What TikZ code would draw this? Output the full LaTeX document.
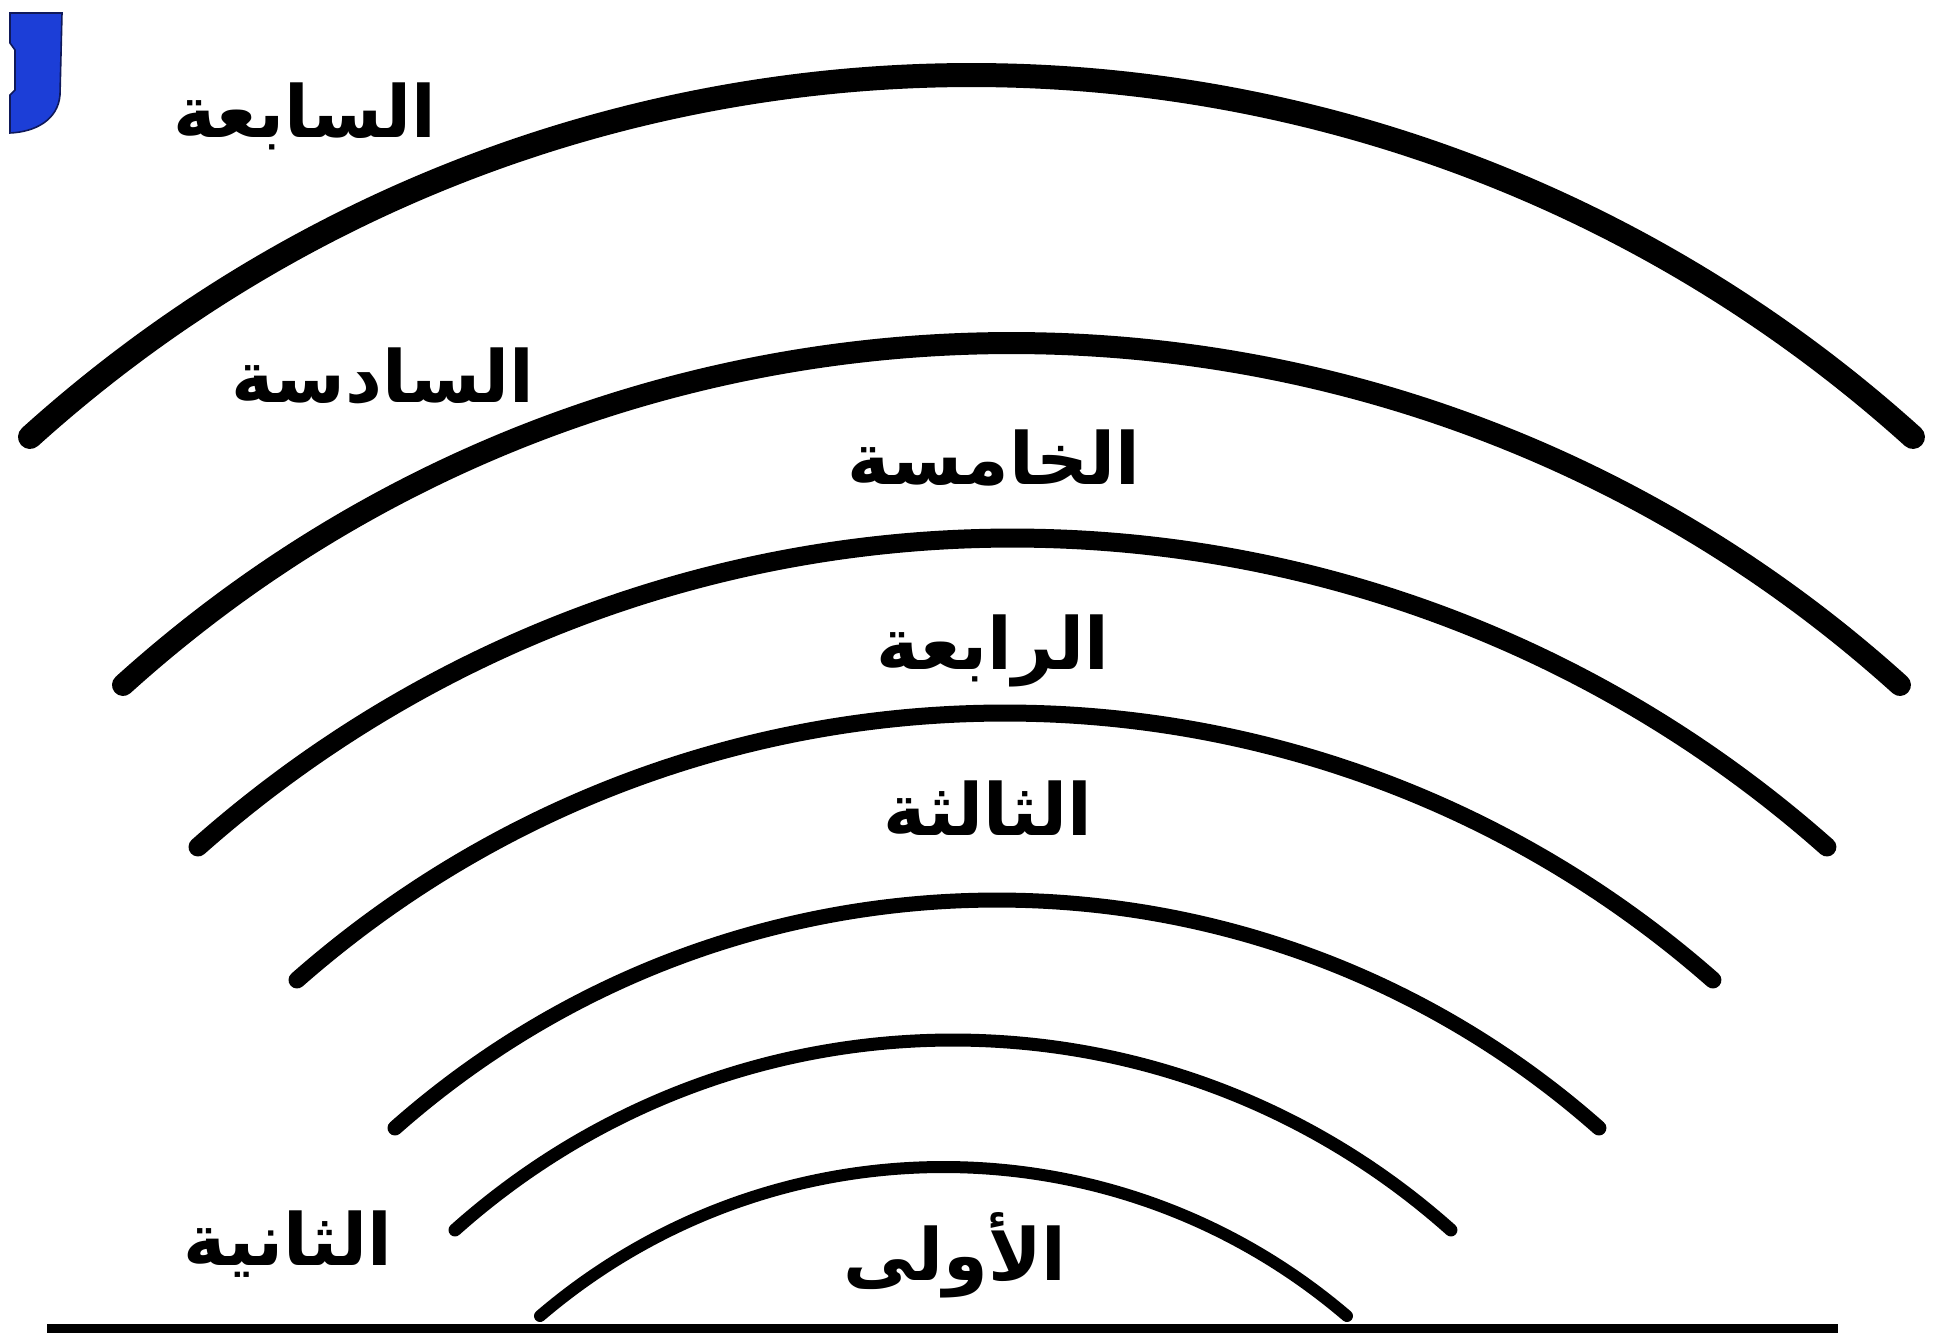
\documentclass[tikz,border=0pt]{standalone}
\usepackage{fontspec}
\newfontfamily\arabicfont[Script=Arabic]{DejaVu Sans}
\TeXXeTstate=1
\usepackage{xcolor}
\usepackage{tikz}
\definecolor{markblue}{RGB}{28,62,215}
\definecolor{marknavy}{RGB}{15,25,90}

\begin{document}
\begin{tikzpicture}[
x=5pt, y=5pt,
ring/.style={
draw=black,
line cap=round
},
layer/.style={
anchor=base,
inner sep=0pt,
font=\arabicfont\bfseries\fontsize{36}{40}\selectfont
}
]

\useasboundingbox[fill=white] (0,0) rectangle (194.1,133.2);

% corner mark
\fill[markblue, draw=marknavy, line width=0.8pt]
(1.0,131.9) -- (6.2,131.9) -- (6.0,123.7)
.. controls (5.8,121.2) and (3.5,120.0) .. (1.0,119.9)
-- (1.0,123.7) -- (1.5,124.2) -- (1.5,128.2) -- (1.0,128.9) -- cycle;

% arcs: left x / right x / end y / top y / width
\foreach \xa/\xb/\ye/\yt/\w in {
3.0/191.3/89.5/125.7/24,
12.3/190.0/64.7/98.9/22,
19.8/182.7/48.5/79.4/19,
29.7/171.3/35.2/61.9/17,
39.5/159.9/20.4/43.2/15,
45.5/145.1/10.2/29.2/13,
54.0/134.7/1.6/16.5/12}{
\pgfmathsetmacro\ha{(\xb-\xa)/2}
\pgfmathsetmacro\sg{\yt-\ye}
\pgfmathsetmacro\rad{(\ha*\ha+\sg*\sg)/(2*\sg)}
\pgfmathsetmacro\ang{asin(\ha/\rad)}
\draw[ring, line width=\w*0.5pt]
(\xa,\ye) arc[start angle=90+\ang, end angle=90-\ang, radius=\rad];
}

% ground
\draw[line width=8pt] (4.7,0) -- (183.8,0);

\node[layer] (seventh) at (30.5,119.4) {\beginR السابعة\endR};
\node[layer] (sixth) at (38.3,92.9) {\beginR السادسة\endR};
\node[layer] (fifth) at (99.4,84.7) {\beginR الخامسة\endR};
\node[layer] (fourth) at (99.3,66.2) {\beginR الرابعة\endR};
\node[layer] (third) at (98.8,49.6) {\beginR الثالثة\endR};
\node[layer] (second) at (28.8,6.7) {\beginR الثانية\endR};
\node[layer] (first) at (95.5,5.2) {\beginR الأولى\endR};

\end{tikzpicture}
\end{document}
